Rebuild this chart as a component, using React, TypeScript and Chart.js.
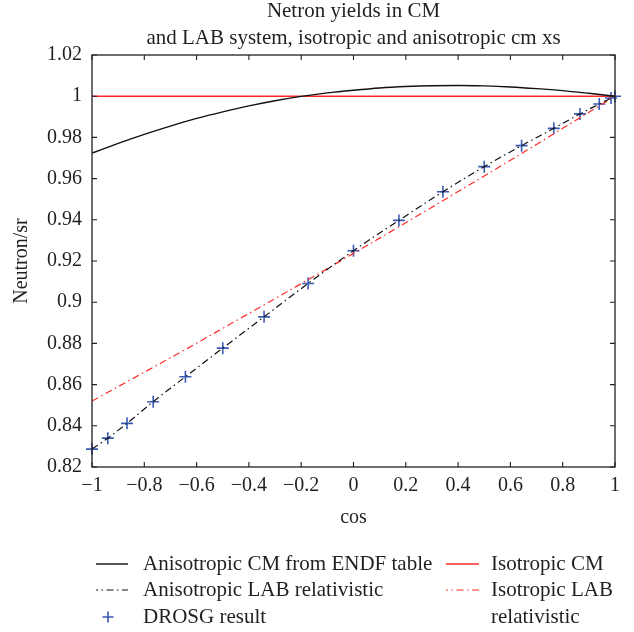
import React, { useEffect, useRef } from "react";
import { Chart, registerables } from "chart.js";

Chart.register(...registerables);

// ---------- data ----------
const titleLines = ["Netron yields in CM", "and LAB system, isotropic and anisotropic cm xs"];
const xAxisTitle = "cos";
const yAxisTitle = "Neutron/sr";

const xTicks = [-1, -0.8, -0.6, -0.4, -0.2, 0, 0.2, 0.4, 0.6, 0.8, 1];
const yTicks = [0.82, 0.84, 0.86, 0.88, 0.9, 0.92, 0.94, 0.96, 0.98, 1, 1.02];

// smooth curves sampled on a cos grid
const curveCos = [-1, -0.9, -0.8, -0.7, -0.6, -0.5, -0.4, -0.3, -0.2, -0.1, 0, 0.1, 0.2, 0.3, 0.4, 0.5, 0.6, 0.7, 0.8, 0.9, 1];
const anisoCM = [0.9724, 0.9771, 0.9815, 0.9855, 0.9892, 0.9924, 0.9953, 0.9978, 0.9999, 1.0016, 1.0029, 1.004, 1.0047, 1.0051, 1.0052, 1.005, 1.0045, 1.0037, 1.0027, 1.0014, 1.0];
const isoLab = [0.852, 0.859, 0.866, 0.873, 0.8801, 0.8873, 0.8945, 0.9017, 0.909, 0.9163, 0.9237, 0.9311, 0.9386, 0.9461, 0.9537, 0.9613, 0.9689, 0.9766, 0.9844, 0.9922, 1.0];

const isoCMCos = [-1, 1];
const isoCM = [1, 1];

// angles 180..0 deg
const drosgCos = [-1, -0.9397, -0.866, -0.766, -0.6428, -0.5, -0.342, -0.1736, 0, 0.1736, 0.342, 0.5, 0.6428, 0.766, 0.866, 0.9397, 0.9848, 1];
const anisoLab = [0.8287, 0.834, 0.8412, 0.8517, 0.8638, 0.8777, 0.8929, 0.9091, 0.925, 0.9397, 0.9536, 0.9658, 0.976, 0.9844, 0.9914, 0.9962, 0.9991, 1.0];
const drosg = [0.8287, 0.834, 0.8412, 0.8517, 0.8638, 0.8777, 0.8929, 0.9091, 0.925, 0.9397, 0.9536, 0.9658, 0.976, 0.9844, 0.9914, 0.9962, 0.9991, 1.0];

const seriesNames = [
  "Anisotropic CM from ENDF table",
  "Isotropic CM",
  "Anisotropic LAB relativistic",
  "Isotropic LAB relativistic",
  "DROSG result",
];

// ---------- styles ----------
const TEXT = "#231f20";
const FONT = '"Liberation Serif", "Times New Roman", serif';
const BLACK = "#111111";
const RED = "#ff2a2a";
const BLUE = "#3a5ab4";
const DASHDOT = [7, 3.5, 1.5, 3.5];

const zip = (xs: number[], ys: number[]) => xs.map((x, i) => ({ x, y: ys[i] }));
const fmt = (v: number) => {
  const s = String(Number(v.toFixed(2)));
  return s.replace("-", "\u2212");
};

const decorPlugin = {
  id: "decor",
  afterDraw(chart: any) {
    const { ctx, chartArea: a, scales } = chart;
    const xs = scales.x;
    const ys = scales.y;
    ctx.save();
    // frame
    ctx.strokeStyle = TEXT;
    ctx.lineWidth = 1.3;
    ctx.strokeRect(a.left, a.top, a.right - a.left, a.bottom - a.top);
    // inward ticks on all four sides
    ctx.lineWidth = 1.1;
    ctx.beginPath();
    for (const v of xTicks) {
      const p = xs.getPixelForValue(v);
      ctx.moveTo(p, a.bottom);
      ctx.lineTo(p, a.bottom - 5);
      ctx.moveTo(p, a.top);
      ctx.lineTo(p, a.top + 5);
    }
    for (const v of yTicks) {
      const p = ys.getPixelForValue(v);
      ctx.moveTo(a.left, p);
      ctx.lineTo(a.left + 5, p);
      ctx.moveTo(a.right, p);
      ctx.lineTo(a.right - 5, p);
    }
    ctx.stroke();

    // title
    ctx.fillStyle = TEXT;
    ctx.font = `21px ${FONT}`;
    ctx.textAlign = "center";
    ctx.textBaseline = "middle";
    const cx = (a.left + a.right) / 2;
    titleLines.forEach((t, i) => ctx.fillText(t, cx, 11 + i * 27));

    // legend
    const ds = chart.data.datasets;
    const rowY = [564, 590, 617];
    const cols = [
      { x0: 96, x1: 128, tx: 143 },
      { x0: 446, x1: 479, tx: 491 },
    ];
    const entries = [
      { d: 0, c: 0, r: 0 },
      { d: 2, c: 0, r: 1 },
      { d: 4, c: 0, r: 2 },
      { d: 1, c: 1, r: 0 },
      { d: 3, c: 1, r: 1 },
    ];
    ctx.textAlign = "left";
    for (const e of entries) {
      const d = ds[e.d];
      const col = cols[e.c];
      const y = rowY[e.r];
      if (d.showLine === false) {
        const mx = (col.x0 + col.x1) / 2 - 4;
        ctx.strokeStyle = d.borderColor;
        ctx.lineWidth = d.pointBorderWidth;
        ctx.setLineDash([]);
        ctx.beginPath();
        ctx.moveTo(mx - 5.5, y);
        ctx.lineTo(mx + 5.5, y);
        ctx.moveTo(mx, y - 5.5);
        ctx.lineTo(mx, y + 5.5);
        ctx.stroke();
      } else {
        ctx.strokeStyle = d.borderColor;
        ctx.lineWidth = d.borderWidth;
        ctx.setLineDash(d.borderDash || []);
        if (d.borderDash) ctx.lineDashOffset = 5;
        ctx.beginPath();
        ctx.moveTo(col.x0, y);
        ctx.lineTo(col.x1, y);
        ctx.stroke();
        ctx.setLineDash([]);
        ctx.lineDashOffset = 0;
      }
      ctx.fillStyle = TEXT;
      ctx.font = `21px ${FONT}`;
      const name = seriesNames[e.d];
      if (e.d === 3) {
        ctx.fillText("Isotropic LAB", col.tx, y);
        ctx.fillText("relativistic", col.tx, y + 27);
      } else {
        ctx.fillText(name, col.tx, y);
      }
    }
    ctx.restore();
  },
};

export default function App() {
  const ref = useRef<HTMLCanvasElement | null>(null);

  useEffect(() => {
    if (!ref.current) return;
    const chart = new Chart(ref.current, {
      type: "line",
      data: {
        datasets: [
          {
            label: seriesNames[0],
            data: zip(curveCos, anisoCM),
            borderColor: BLACK,
            borderWidth: 1.4,
            pointRadius: 0,
            cubicInterpolationMode: "monotone",
            fill: false,
          },
          {
            label: seriesNames[1],
            data: zip(isoCMCos, isoCM),
            borderColor: RED,
            borderWidth: 1.4,
            pointRadius: 0,
            fill: false,
          },
          {
            label: seriesNames[2],
            data: zip(drosgCos, anisoLab),
            borderColor: BLACK,
            borderWidth: 1.2,
            borderDash: DASHDOT,
            pointRadius: 0,
            cubicInterpolationMode: "monotone",
            fill: false,
          },
          {
            label: seriesNames[3],
            data: zip(curveCos, isoLab),
            borderColor: RED,
            borderWidth: 1.2,
            borderDash: DASHDOT,
            pointRadius: 0,
            cubicInterpolationMode: "monotone",
            fill: false,
          },
          {
            label: seriesNames[4],
            data: zip(drosgCos, drosg),
            showLine: false,
            borderColor: BLUE,
            backgroundColor: BLUE,
            pointStyle: "cross",
            pointRadius: 6,
            pointBorderWidth: 1.6,
            pointBorderColor: BLUE,
            clip: false,
          } as any,
        ],
      },
      options: {
        animation: false,
        responsive: false,
        devicePixelRatio: 1,
        events: [],
        layout: { padding: { left: 0, right: 19, top: 55, bottom: 95 } },
        plugins: {
          legend: { display: false },
          title: { display: false },
          tooltip: { enabled: false },
        },
        scales: {
          x: {
            type: "linear",
            min: -1,
            max: 1,
            afterBuildTicks: (s: any) => {
              s.ticks = xTicks.map((v) => ({ value: v }));
            },
            afterFit: (s: any) => {
              s.height = 70;
            },
            grid: { display: false, drawTicks: false },
            border: { display: false },
            ticks: {
              autoSkip: false,
              maxRotation: 0,
              padding: 7,
              color: TEXT,
              font: { family: FONT, size: 20 },
              callback: (v: any) => fmt(Number(v)),
            },
            title: {
              display: true,
              text: xAxisTitle,
              color: TEXT,
              font: { family: FONT, size: 20 },
              padding: { top: 0, bottom: 7 },
            },
          },
          y: {
            type: "linear",
            min: 0.82,
            max: 1.02,
            afterBuildTicks: (s: any) => {
              s.ticks = yTicks.map((v) => ({ value: v }));
            },
            afterFit: (s: any) => {
              s.width = 92;
            },
            grid: { display: false, drawTicks: false },
            border: { display: false },
            ticks: {
              autoSkip: false,
              padding: 10,
              color: TEXT,
              font: { family: FONT, size: 20 },
              callback: (v: any) => fmt(Number(v)),
            },
            title: {
              display: true,
              text: yAxisTitle,
              color: TEXT,
              font: { family: FONT, size: 20 },
              padding: { top: 10, bottom: 0 },
            },
          },
        },
      } as any,
      plugins: [decorPlugin],
    });
    return () => chart.destroy();
  }, []);

  return (
    <div style={{ position: "absolute", left: 0, top: 0, width: 634, height: 632, background: "#fff" }}>
      <canvas ref={ref} width={634} height={632} style={{ display: "block" }} />
    </div>
  );
}
